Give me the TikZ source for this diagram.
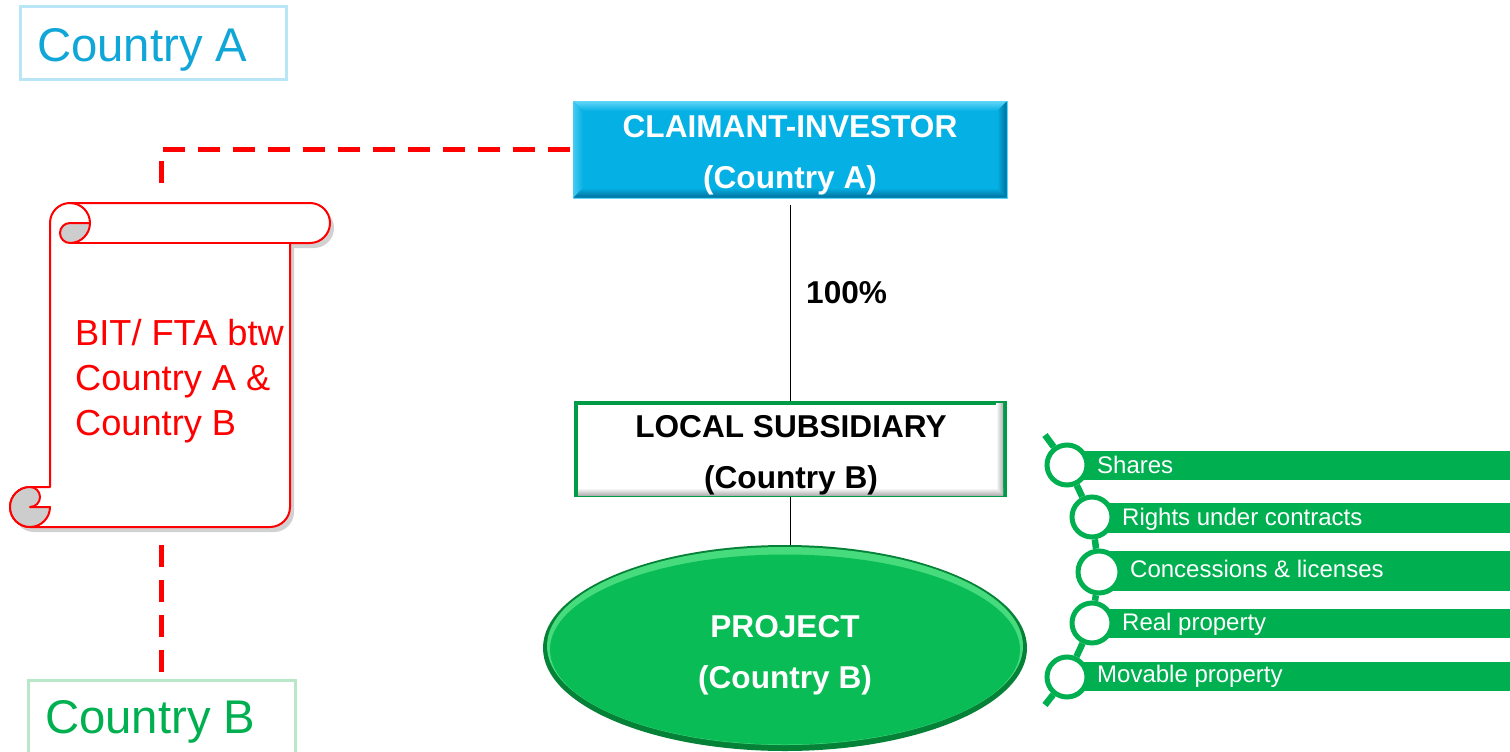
\documentclass[tikz,border=0pt]{standalone}
\usepackage{fontspec}
\setmainfont{Liberation Sans}
\usetikzlibrary{shapes.geometric}
\definecolor{ctyA}{RGB}{17,166,216}
\definecolor{ctyAglow}{RGB}{185,230,246}
\definecolor{ctyB}{RGB}{0,176,80}
\definecolor{ctyBglow}{RGB}{185,232,200}
\definecolor{investor}{RGB}{5,176,228}
\definecolor{investorhi}{RGB}{95,212,247}
\definecolor{investorlo}{RGB}{0,112,156}
\definecolor{subborder}{RGB}{0,155,70}
\definecolor{projdark}{RGB}{5,130,55}
\definecolor{projlight}{RGB}{70,220,125}
\definecolor{projmain}{RGB}{10,188,86}
\definecolor{listgreen}{RGB}{0,176,80}
\definecolor{treatyred}{RGB}{255,0,0}
\definecolor{curlgray}{RGB}{205,205,205}
\begin{document}
\begin{tikzpicture}[x=1pt,y=-1pt,
  countrybox/.style={draw,line width=3pt,fill=white,inner sep=0pt},
  countrytext/.style={anchor=base west,inner sep=0pt,font=\fontsize{47.3}{56}\selectfont},
  boxline/.style={anchor=base,inner sep=0pt,font=\fontsize{31.6}{36}\selectfont\bfseries},
  treaty/.style={draw=treatyred,line width=5pt,dash pattern=on 22pt off 13pt},
  link/.style={draw=black,line width=1.3pt},
  scrolledge/.style={draw=treatyred,line width=2pt,line join=round},
  ring/.style={circle,draw=listgreen,line width=5pt,fill=white,inner sep=0pt,minimum size=40pt},
  ringlink/.style={draw=listgreen,line width=6.5pt},
  itemtext/.style={anchor=base west,inner sep=0pt,text=white,font=\fontsize{24}{28}\selectfont}]
\useasboundingbox (0,0) rectangle (1510,752);
\clip (0,0) rectangle (1510,752);

% country labels
\node[countrybox,draw=ctyAglow,minimum width=266pt,minimum height=73pt] (cA) at (153,43.5) {};
\node[countrytext,text=ctyA] (cAt) at (37,62) {Country A};
\node[countrybox,draw=ctyBglow,minimum width=267pt,minimum height=84pt] (cB) at (161.5,722) {};
\node[countrytext,text=ctyB] (cBt) at (45,733) {Country B};

% treaty scroll: shadow, body and roll
\fill[black,opacity=0.18,shift={(4,5)}]
  (50,223) arc[start angle=180,end angle=270,radius=20] -- (310,203)
  arc[start angle=270,end angle=450,radius=20] -- (290,243) -- (290,507)
  arc[start angle=0,end angle=90,radius=20] -- (30,527)
  arc[start angle=90,end angle=270,radius=20] -- (50,487) -- cycle;
\path[scrolledge,fill=white]
  (50,223) arc[start angle=180,end angle=270,radius=20] -- (310,203)
  arc[start angle=270,end angle=450,radius=20] -- (290,243) -- (290,507)
  arc[start angle=0,end angle=90,radius=20] -- (30,527)
  arc[start angle=90,end angle=270,radius=20] -- (50,487) -- cycle;
\draw[scrolledge] (290,243) -- (70,243);
\draw[scrolledge] (70,203) arc[start angle=270,end angle=360,radius=20];
\path[scrolledge,fill=curlgray] (70,243) arc[start angle=90,end angle=0,radius=20]
  -- (70,223) arc[start angle=270,end angle=90,radius=10] -- cycle;
\path[scrolledge,fill=curlgray] (30,487) arc[start angle=270,end angle=450,radius=10]
  -- (50,507) arc[start angle=0,end angle=270,radius=20] -- cycle;
\node[anchor=north west,align=left,inner sep=0pt,text=treatyred,
  font=\fontsize{36.2}{45}\selectfont] (bit) at (75,319) {BIT/ FTA btw\\Country A \&\\Country B};

% claimant-investor box with bevelled edges
\node[fill=investor,draw=investorhi,line width=0.8pt,minimum width=434pt,minimum height=97pt,inner sep=0pt] (claim) at (790,149.5) {};
\shade[top color=investorhi,bottom color=investor] (573.5,101.5) -- (1006.5,101.5) -- (997,111) -- (583,111) -- cycle;
\shade[left color=investorhi!70!investor,right color=investor] (573.5,101.5) -- (583,111) -- (583,188) -- (573.5,197.5) -- cycle;
\shade[left color=investor,right color=investorlo] (1006.5,101.5) -- (997,111) -- (997,188) -- (1006.5,197.5) -- cycle;
\shade[top color=investor,bottom color=investorlo] (573.5,197.5) -- (583,188) -- (997,188) -- (1006.5,197.5) -- cycle;
\node[boxline,text=white] (claim1) at (790,137) {CLAIMANT-INVESTOR};
\node[boxline,text=white] (claim2) at (790,188) {(Country A)};

% local subsidiary box
\node[draw=subborder,line width=4pt,fill=white,minimum width=429pt,minimum height=92pt,inner sep=0pt] (sub) at (790.5,449) {};
\shade[top color=white,bottom color=black!30] (578,488) -- (1003,488) -- (1003,495) -- (578,495) -- cycle;
\shade[left color=white,right color=black!30] (996,403) -- (1003,403) -- (1003,495) -- (996,488) -- cycle;
\node[boxline,text=black] (sub1) at (791,437) {LOCAL SUBSIDIARY};
\node[boxline,text=black] (sub2) at (791,488) {(Country B)};

% project ellipse
\node[ellipse,fill=projdark,minimum width=484pt,minimum height=206pt,inner sep=0pt] (proj) at (785,648) {};
\fill[projlight] (785,646) ellipse[x radius=238,y radius=99];
\fill[projmain] (785,649.5) ellipse[x radius=235,y radius=95];
\node[boxline,text=white] (proj1) at (785,637) {PROJECT};
\node[boxline,text=white] (proj2) at (785,688) {(Country B)};

% ownership connectors and treaty links
\draw[link,shorten <=7pt] (claim.south -| sub.north) -- (sub.north);
\node[anchor=base west,inner sep=0pt,font=\fontsize{31.6}{36}\selectfont\bfseries] (pct) at (806,303) {100\%};
\draw[link] (sub.south) -- (sub.south |- proj.north);
\coordinate (trA) at (161,183);
\coordinate (trB) at (161,545);
\draw[treaty] (trA) |- (claim.west);
\draw[treaty] (trB) -- (trB |- cB.north);

% protected investments list
\fill[listgreen] (1067,451) rectangle (1510,480);
\fill[listgreen] (1092,503) rectangle (1510,533);
\fill[listgreen] (1099,551) rectangle (1510,591);
\fill[listgreen] (1092,609) rectangle (1510,638);
\fill[listgreen] (1067,662) rectangle (1510,691);
\coordinate (ltop) at (1045,435);
\coordinate (lbot) at (1045,705);
\node[ring] (s1) at (1067,465) {};
\node[ring] (s2) at (1092,517) {};
\node[ring,minimum size=42pt] (s3) at (1099,572) {};
\node[ring] (s4) at (1092,623) {};
\node[ring] (s5) at (1067,677) {};
\draw[ringlink] (ltop) -- (s1);
\draw[ringlink] (s1) -- (s2);
\draw[ringlink] (s2) -- (s3);
\draw[ringlink] (s3) -- (s4);
\draw[ringlink] (s4) -- (s5);
\draw[ringlink] (s5) -- (lbot);
\node[itemtext] (i1) at (1097,473) {Shares};
\node[itemtext] (i2) at (1122,525) {Rights under contracts};
\node[itemtext] (i3) at (1130,577) {Concessions \& licenses};
\node[itemtext] (i4) at (1122,630) {Real property};
\node[itemtext] (i5) at (1097,682) {Movable property};
\end{tikzpicture}
\end{document}
